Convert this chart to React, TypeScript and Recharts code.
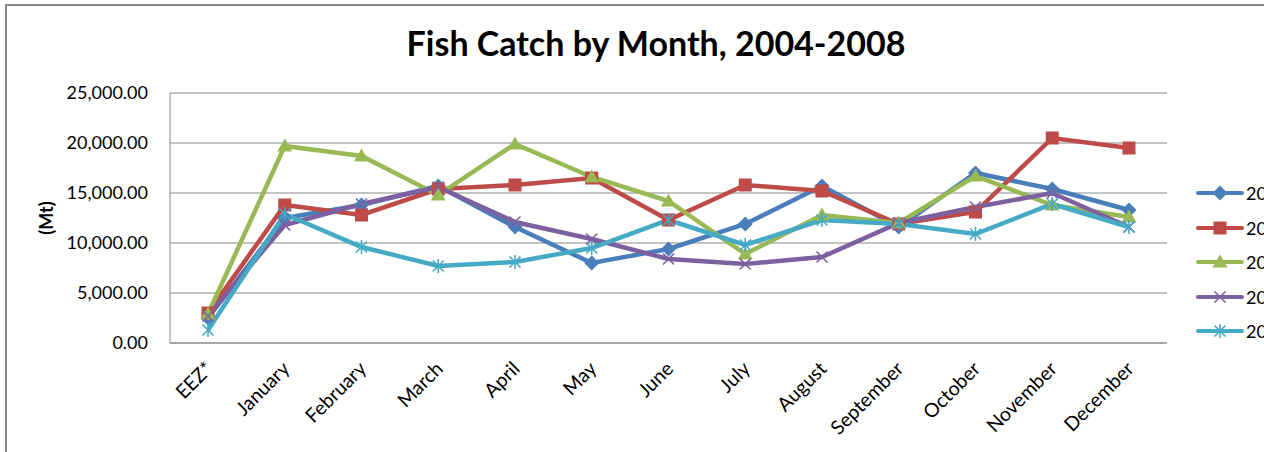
import { LineChart, Line, XAxis, YAxis, CartesianGrid } from 'recharts'

// Fish catch (Mt) by month, one series per year
const MONTHS = ['EEZ*', 'January', 'February', 'March', 'April', 'May', 'June', 'July', 'August', 'September', 'October', 'November', 'December']
const Y2004 = [2500, 12500, 13800, 15700, 11600, 8000, 9400, 11900, 15700, 11600, 17000, 15400, 13300]
const Y2005 = [3000, 13800, 12800, 15400, 15800, 16500, 12300, 15800, 15200, 11900, 13100, 20500, 19500]
const Y2006 = [2900, 19700, 18700, 14800, 19900, 16600, 14200, 8900, 12800, 12000, 16700, 13800, 12600]
const Y2007 = [2700, 11800, 13900, 15600, 12100, 10400, 8400, 7900, 8600, 12000, 13600, 15000, 11600]
const Y2008 = [1300, 12900, 9600, 7700, 8100, 9500, 12300, 9800, 12300, 11900, 10900, 13900, 11600]
const Y_TICKS = [0, 5000, 10000, 15000, 20000, 25000]

const FONT = 'Lato, "Open Sans", sans-serif'
const GRID = '#898989'

type Shape = 'diamond' | 'square' | 'triangle' | 'cross' | 'star'

const SERIES: { key: string; color: string; shape: Shape }[] = [
  { key: '2004', color: '#4A7EBB', shape: 'diamond' },
  { key: '2005', color: '#BE4B48', shape: 'square' },
  { key: '2006', color: '#98B954', shape: 'triangle' },
  { key: '2007', color: '#7D60A0', shape: 'cross' },
  { key: '2008', color: '#46AAC5', shape: 'star' },
]

const VALUES: Record<string, number[]> = { '2004': Y2004, '2005': Y2005, '2006': Y2006, '2007': Y2007, '2008': Y2008 }

const rows = MONTHS.map((m, i) => ({
  month: m,
  ...Object.fromEntries(SERIES.map((s) => [s.key, VALUES[s.key][i]])),
}))

function Marker({ cx, cy, shape, color }: { cx: number; cy: number; shape: Shape; color: string }) {
  switch (shape) {
    case 'diamond':
      return <polygon points={`${cx},${cy - 7.5} ${cx + 7.5},${cy} ${cx},${cy + 7.5} ${cx - 7.5},${cy}`} fill={color} />
    case 'square':
      return <rect x={cx - 6.5} y={cy - 6.5} width={13} height={13} fill={color} />
    case 'triangle':
      return <polygon points={`${cx},${cy - 7.5} ${cx + 7.5},${cy + 5.5} ${cx - 7.5},${cy + 5.5}`} fill={color} />
    case 'cross':
      return (
        <g stroke={color} strokeWidth={1.6}>
          <line x1={cx - 5.5} y1={cy - 5.5} x2={cx + 5.5} y2={cy + 5.5} />
          <line x1={cx - 5.5} y1={cy + 5.5} x2={cx + 5.5} y2={cy - 5.5} />
        </g>
      )
    default:
      return (
        <g stroke={color} strokeWidth={1.6}>
          <line x1={cx - 5.5} y1={cy - 5.5} x2={cx + 5.5} y2={cy + 5.5} />
          <line x1={cx - 5.5} y1={cy + 5.5} x2={cx + 5.5} y2={cy - 5.5} />
          <line x1={cx} y1={cy - 7} x2={cx} y2={cy + 7} />
        </g>
      )
  }
}

function MonthTick({ x, y, payload }: any) {
  const ax = x + 6
  const ay = y + 19
  return (
    <text x={ax} y={ay} transform={`rotate(-45 ${ax} ${ay})`} textAnchor="end" fontSize={19.5} fontFamily={FONT} fill="#000">
      {payload.value}
    </text>
  )
}

function LegendBox() {
  return (
    <div style={{ position: 'absolute', left: 1194, top: 176 }}>
      {SERIES.map((s) => (
        <div key={s.key} style={{ display: 'flex', alignItems: 'center', height: 34.5 }}>
          <svg width={52} height={20}>
            <line x1={4} y1={10} x2={48} y2={10} stroke={s.color} strokeWidth={4} strokeLinecap="round" />
            <Marker cx={26} cy={10} shape={s.shape} color={s.color} />
          </svg>
          <span style={{ fontFamily: FONT, fontSize: 18, color: '#000', whiteSpace: 'nowrap' }}>{s.key}</span>
        </div>
      ))}
    </div>
  )
}

export default function App() {
  return (
    <div style={{ position: 'absolute', left: 0, top: 0, width: 1264, height: 452, overflow: 'hidden', background: '#fff' }}>
      <div style={{ position: 'absolute', left: 5, top: 4, right: -10, bottom: -10, borderTop: `2px solid ${GRID}`, borderLeft: `2px solid ${GRID}` }} />
      <div
        style={{
          position: 'absolute',
          left: 0,
          top: 23,
          width: 1312,
          textAlign: 'center',
          fontFamily: FONT,
          fontWeight: 700,
          fontSize: 34,
          color: '#000',
          lineHeight: '40px',
        }}
      >
        Fish Catch by Month, 2004-2008
      </div>
      <LineChart width={1264} height={452} data={rows} margin={{ top: 93, right: 97, bottom: 0, left: 0 }}>
        <CartesianGrid vertical={false} stroke={GRID} strokeWidth={1} />
        <XAxis
          dataKey="month"
          height={109}
          padding={{ left: 38, right: 38 }}
          axisLine={{ stroke: GRID }}
          tickLine={false}
          interval={0}
          tick={<MonthTick />}
        />
        <YAxis
          width={170}
          domain={[0, 25000]}
          ticks={Y_TICKS}
          axisLine={{ stroke: GRID }}
          tickLine={false}
          tickSize={0}
          tickMargin={22}
          tick={{ fontSize: 18, fontFamily: FONT, fill: '#000' }}
          tickFormatter={(v: number) => v.toLocaleString('en-US', { minimumFractionDigits: 2, maximumFractionDigits: 2 })}
          label={{
            content: () => (
              <text x={46} y={218} transform="rotate(-90 46 218)" textAnchor="middle" dominantBaseline="central" fontSize={18} fontWeight={700} fontFamily={FONT} fill="#000">
                (Mt)
              </text>
            ),
          }}
        />
        {SERIES.map((s) => (
          <Line
            key={s.key}
            dataKey={s.key}
            name={s.key}
            stroke={s.color}
            strokeWidth={4.5}
            isAnimationActive={false}
            dot={(p: any) => <Marker key={`${s.key}-${p.index}`} cx={p.cx} cy={p.cy} shape={s.shape} color={s.color} />}
            activeDot={false}
          />
        ))}
      </LineChart>
      <LegendBox />
    </div>
  )
}
